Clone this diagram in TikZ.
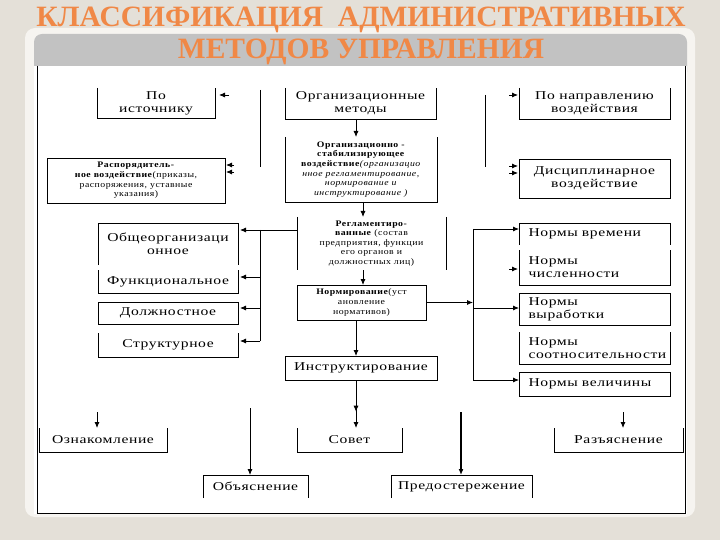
\documentclass[tikz,border=0pt]{standalone}
\usepackage{fontspec}
\setmainfont{Liberation Serif}
\newfontfamily\bigf{Liberation Serif}[FakeStretch=1.3,LetterSpace=5]
\newfontfamily\smallf{Liberation Serif}[FakeStretch=1.15,LetterSpace=6]
\usetikzlibrary{arrows.meta,decorations.markings,calc}
\definecolor{bgc}{RGB}{228,224,216}
\definecolor{stripc}{RGB}{246,244,240}
\definecolor{bandc}{RGB}{194,194,194}
\definecolor{titlec}{RGB}{240,136,70}
\newcommand{\bigtxt}{\bigf\fontsize{12}{13}\selectfont}
\newcommand{\smalltxt}{\smallf\fontsize{8.5}{9.6}\selectfont}
\begin{document}
\begin{tikzpicture}[x=1pt,y=-1pt,
  box/.style={inner sep=0pt,outer sep=0pt,align=center,font=\bigtxt},
  sbox/.style={box,font=\smalltxt},
  lbox/.style={box,align=left,text width=132pt},
  edge/.style={line width=0.8pt,black},
  arr/.style={edge,-{Latex[length=6pt,width=5pt]}},
  title/.style={font=\fontsize{29.5}{31}\selectfont\bfseries,text=titlec,inner sep=0pt}]
\useasboundingbox (0,0) rectangle (720,540);
\fill[bgc] (0,0) rectangle (720,540);
% frame
\fill[stripc,rounded corners=10pt] (25,28) rectangle (695,517);
\fill[bandc,rounded corners=8pt] (34,34) rectangle (687,80);
\fill[white] (34,66) rectangle (687,514);
\draw[line width=1pt] (37,66) -- (37,513) -- (685,513) -- (685,66);
% title
\node[title] (t1) at (361,20) {КЛАССИФИКАЦИЯ\ \ АДМИНИСТРАТИВНЫХ};
\node[title] (t2) at (361,52) {МЕТОДОВ УПРАВЛЕНИЯ};
% boxes
\node[box,minimum width=118,minimum height=30] (ist) at (156,103) {По\\источнику};
\node[box,minimum width=151,minimum height=31] (org) at (360.5,103.5) {Организационные\\методы};
\node[box,minimum width=151,minimum height=31] (napr) at (594.5,103.5) {По направлению\\воздействия};
\node[sbox,minimum width=178,minimum height=45] (rasp) at (136,180.5) {\textbf{Распорядитель-}\\\textbf{ное воздействие}(приказы,\\распоряжения, уставные\\указания)};
\node[sbox,minimum width=152,minimum height=65] (stab) at (361,169.5) {\textbf{Организационно -}\\\textbf{стабилизирующее}\\\textbf{воздействие}\textit{(организацио}\\\textit{нное регламентирование,}\\\textit{нормирование и}\\\textit{инструктирование )}};
\node[box,minimum width=151,minimum height=39] (disc) at (594.5,178.5) {Дисциплинарное\\воздействие};
\node[box,minimum width=140,minimum height=42] (obsh) at (168,244) {Общеорганизаци\\онное};
\node[sbox,minimum width=149,minimum height=53] (regl) at (371.5,243.5) {\textbf{Регламентиро-}\\\textbf{ванные} (состав\\предприятия, функции\\его органов и\\должностных лиц)};
\node[lbox,minimum width=151,minimum height=22] (nvr) at (594.5,234) {Нормы времени};
\node[box,minimum width=140,minimum height=23] (func) at (168,281.5) {Функциональное};
\node[lbox,minimum width=151,minimum height=35] (nchis) at (594.5,267.5) {Нормы\\численности};
\node[sbox,minimum width=129,minimum height=35] (norm) at (361.5,302.5) {\textbf{Нормирование}(уст\\ановление\\нормативов)};
\node[lbox,minimum width=151,minimum height=32] (nvyr) at (594.5,309) {Нормы\\выработки};
\node[box,minimum width=140,minimum height=22] (dolzh) at (168,313) {Должностное};
\node[box,minimum width=140,minimum height=24] (strukt) at (168,345) {Структурное};
\node[lbox,minimum width=151,minimum height=32] (nsoot) at (594.5,348) {Нормы\\соотносительности};
\node[box,minimum width=152,minimum height=24] (instr) at (361,368) {Инструктирование};
\node[lbox,minimum width=151,minimum height=24] (nvel) at (594.5,384) {Нормы величины};
\node[box,minimum width=128,minimum height=24] (oznak) at (103,440) {Ознакомление};
\node[box,minimum width=105,minimum height=24] (sovet) at (349.5,440) {Совет};
\node[box,minimum width=129,minimum height=24] (razy) at (618.5,440) {Разъяснение};
\node[box,minimum width=105,minimum height=23] (obyas) at (255.5,486.5) {Объяснение};
\node[box,minimum width=141,minimum height=23] (pred) at (461.5,486.5) {Предостережение};
% box outlines
\foreach \n in {ist,org,napr,stab,func,nchis,strukt,nsoot,oznak,sovet,razy}
  \draw[edge] (\n.north west) -- (\n.south west) -- (\n.south east) -- (\n.north east);
\foreach \n in {rasp,disc,norm,nvyr,dolzh,instr,nvel}
  \draw[edge] (\n.north west) rectangle (\n.south east);
\foreach \n in {obsh,nvr,obyas,pred}
  \draw[edge] (\n.south west) -- (\n.north west) -- (\n.north east) -- (\n.south east);
\draw[edge] (regl.north west) -- (regl.south west);
\draw[edge] (regl.north east) -- (regl.south east);
% coordinates
\coordinate (cx) at (356,0);
\coordinate (cy) at (363,0);
\coordinate (lv1) at (260,90);
\coordinate (lv2) at (260,167);
\coordinate (rv1) at (485,95);
\coordinate (rv2) at (485,167);
\coordinate (lbt) at (260,230);
\coordinate (lbb) at (260,341);
\coordinate (rbt) at (473,229);
\coordinate (rbb) at (473,380);
% main column
\draw[arr] (org.south -| cx) -- (stab.north -| cx);
\draw[arr] (stab.south -| cy) -- (regl.north -| cy);
\draw[arr] (regl.south -| cy) -- (norm.north -| cy);
\draw[arr] (norm.south -| cx) -- (instr.north -| cx);
\draw[arr,postaction={decorate},decoration={markings,mark=at position 0.66 with {\arrow{Latex[length=6pt,width=5pt]}}}] (instr.south -| cx) -- (sovet.north -| cx);
% upper side lines and stubs
\draw[edge] (lv1) -- (lv2);
\draw[edge] (rv1) -- (rv2);
\coordinate (a1) at (229,95);   \coordinate (a1e) at (219,95);
\coordinate (a2) at (234,165);  \coordinate (a2e) at (226,165);
\coordinate (a3) at (234,172);  \coordinate (a3e) at (226,172);
\coordinate (b1) at (509,95);   \coordinate (b1e) at (518,95);
\coordinate (b2) at (509,166);  \coordinate (b2e) at (518,166);
\coordinate (b3) at (509,173);  \coordinate (b3e) at (518,173);
\draw[arr] (a1) -- (a1e);
\draw[arr] (a2) -- (a2e);
\draw[arr] (a3) -- (a3e);
\draw[arr] (b1) -- (b1e);
\draw[arr] (b2) -- (b2e);
\draw[arr] (b3) -- (b3e);
% left branch
\draw[arr] (regl.west |- lbt) -- ($(obsh.east |- lbt)+(2,0)$);
\draw[edge] (lbt) -- (lbb);
\draw[arr] (lbt |- 0,277) -- ($(func.east |- 0,277)+(2,0)$);
\draw[arr] (lbt |- 0,308) -- ($(dolzh.east |- 0,308)+(2,0)$);
\draw[arr] (lbb) -- ($(strukt.east |- lbb)+(2,0)$);
% right branch
\draw[arr] (norm.east) -- (rbt |- norm.east);
\draw[edge] (rbt) -- (rbb);
\draw[arr] (rbt) -- (nvr.west |- rbt);
\coordinate (c1) at (509,269); \coordinate (c1e) at (518,269);
\draw[arr] (c1) -- (c1e);
\draw[arr] (rbt |- 0,308) -- (nvyr.west |- 0,308);
\draw[arr] (rbb) -- (nvel.west |- rbb);
% bottom arrows
\coordinate (d1) at (97,412);
\coordinate (d2) at (250,408);
\coordinate (d3) at (461,412);
\coordinate (d4) at (623,412);
\draw[arr] (d1) -- (d1 |- oznak.north);
\draw[arr] (d2) -- (d2 |- obyas.north);
\draw[arr,line width=2pt] (d3) -- (d3 |- pred.north);
\draw[arr] (d4) -- (d4 |- razy.north);
\end{tikzpicture}
\end{document}
